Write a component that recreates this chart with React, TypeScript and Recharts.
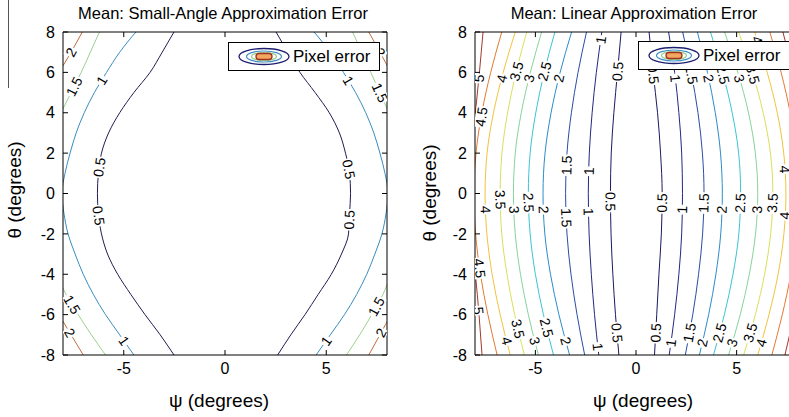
import React from 'react'
import {
  ComposedChart,
  Line,
  Scatter,
  XAxis,
  YAxis,
  ReferenceLine,
  Legend,
} from 'recharts'

const FONT = '"Liberation Sans", Arial, Helvetica, sans-serif'

const PSI_TICKS = [-5, 0, 5]
const THETA_TICKS = [-8, -6, -4, -2, 0, 2, 4, 6, 8]

// ---- left panel: small-angle approximation error ----
const SA_LEVELS = [0.5, 1, 1.5, 2]
const SA_COLORS = ['#1e1e50', '#3a8cc0', '#9fcf90', '#c26c3e']

const SA_THETA = [8, 7, 6, 5, 4, 3, 2, 1, 0, -1, -2, -3, -4, -5, -6, -7, -8]
const SA_THETA_TOP15 = [8, 7, 6, 5, 4, 3]
const SA_THETA_BOT15 = [-3, -4, -5, -6, -7, -8]
const SA_THETA_TOP2 = [8, 7, 6, 5]
const SA_THETA_BOT2 = [-5, -6, -7, -8]

const SA_05_NEG = [-2.52, -3.1, -3.7, -4.5, -5.2, -5.75, -6.1, -6.25, -6.3, -6.25, -6.1, -5.8, -5.3, -4.65, -3.95, -3.2, -2.52]
const SA_05_POS = [2.52, 3.1, 3.7, 4.45, 5.15, 5.65, 5.95, 6.15, 6.2, 6.15, 6.1, 5.75, 5.25, 4.6, 3.95, 3.25, 2.6]
const SA_10_NEG = [-4.4, -5.2, -5.85, -6.45, -6.95, -7.35, -7.65, -7.9, -8.05, -7.95, -7.75, -7.4, -7.0, -6.5, -5.9, -5.2, -4.5]
const SA_10_POS = [4.4, 5.2, 5.85, 6.45, 6.95, 7.35, 7.65, 7.9, 8.05, 7.95, 7.75, 7.4, 7.0, 6.5, 5.9, 5.2, 4.5]
const SA_15_NEG_TOP = [-6.2, -6.65, -7.1, -7.6, -8.1, -8.6]
const SA_15_NEG_BOT = [-8.7, -8.3, -7.85, -7.25, -6.6, -5.9]
const SA_15_POS_TOP = [6.3, 6.75, 7.2, 7.65, 8.1, 8.6]
const SA_15_POS_BOT = [8.6, 8.2, 7.8, 7.25, 6.65, 6.0]
const SA_20_NEG_TOP = [-7.05, -7.6, -8.2, -8.8]
const SA_20_NEG_BOT = [-8.8, -8.2, -7.6, -7.0]
const SA_20_POS_TOP = [7.1, 7.65, 8.2, 8.8]
const SA_20_POS_BOT = [8.8, 8.2, 7.65, 7.1]

// [segment id, theta where the inline label sits]
const SA_LABELS: [string, number][] = [
  ['sa20nt', 7.0], ['sa15nt', 5.3], ['sa10n', 5.6], ['sa05n', 1.3], ['sa05n', -1.1],
  ['sa15nb', -5.5], ['sa20nb', -6.9], ['sa10n', -7.3],
  ['sa20pt', 7.0], ['sa15pt', 5.0], ['sa10p', 5.6], ['sa05p', 1.2], ['sa05p', -1.3],
  ['sa15pb', -5.6], ['sa20pb', -6.9], ['sa10p', -7.3],
]

// ---- right panel: linear approximation error ----
const LIN_LEVELS = [0.5, 1, 1.5, 2, 2.5, 3, 3.5, 4, 4.5, 5]
const LIN_COLORS = [
  '#1a1a62', '#22287e', '#2c4ca6', '#2a8cca', '#3cc4d4',
  '#86d49a', '#d8e05c', '#f2c23c', '#e07a32', '#a23a2a',
]
const LIN_THETA = [8, 6, 4, 2, 0, -2, -4, -6, -8]

// one row per level, psi at each LIN_THETA row
const LIN_PSI_NEG = [
  [-0.74, -0.92, -1.1, -1.23, -1.27, -1.24, -1.15, -1.02, -0.85],
  [-1.7, -1.97, -2.18, -2.32, -2.37, -2.33, -2.22, -2.06, -1.85],
  [-2.46, -2.88, -3.21, -3.43, -3.5, -3.43, -3.23, -2.93, -2.55],
  [-3.2, -3.77, -4.22, -4.52, -4.62, -4.53, -4.25, -3.83, -3.3],
  [-4.03, -4.56, -4.98, -5.26, -5.35, -5.26, -5.0, -4.6, -4.1],
  [-4.69, -5.25, -5.7, -6.0, -6.09, -6.0, -5.74, -5.35, -4.85],
  [-5.43, -5.96, -6.38, -6.66, -6.75, -6.67, -6.41, -6.03, -5.55],
  [-6.0, -6.6, -7.08, -7.4, -7.5, -7.41, -7.15, -6.75, -6.25],
  [-6.67, -7.22, -7.66, -7.95, -8.05, -7.97, -7.73, -7.36, -6.9],
  [-7.6, -7.78, -7.98, -8.2, -8.3, -8.2, -7.98, -7.8, -7.65],
]
const LIN_PSI_POS = [
  [0.65, 0.85, 1.07, 1.22, 1.3, 1.26, 1.14, 1.03, 0.92],
  [1.62, 1.92, 2.13, 2.27, 2.31, 2.27, 2.13, 1.92, 1.65],
  [2.32, 2.74, 3.08, 3.3, 3.38, 3.31, 3.11, 2.82, 2.45],
  [3.05, 3.55, 3.94, 4.2, 4.29, 4.21, 3.97, 3.61, 3.15],
  [3.7, 4.3, 4.78, 5.1, 5.2, 5.11, 4.82, 4.39, 3.85],
  [4.4, 5.06, 5.59, 5.93, 6.05, 5.94, 5.63, 5.18, 4.6],
  [5.1, 5.78, 6.32, 6.68, 6.8, 6.69, 6.39, 5.93, 5.35],
  [5.9, 6.52, 7.02, 7.34, 7.45, 7.35, 7.06, 6.61, 6.05],
  [6.65, 7.21, 7.66, 7.95, 8.05, 7.96, 7.69, 7.27, 6.75],
  [7.3, 7.8, 8.2, 8.5, 8.6, 8.5, 8.2, 7.85, 7.4],
]

// [level, theta] of the inline labels
const LIN_LABELS_NEG: [number, number][] = [
  [5, 5.7], [4, 5.7], [3.5, 6.05], [3, 5.7], [2.5, 6.05], [2, 5.7], [1, 7.6], [0.5, 6.05],
  [4.5, 3.8], [1.5, 1.4], [1, 1.1],
  [4, -0.8], [3.5, -0.3], [3, -0.8], [2.5, -0.45], [2, -0.8], [1.5, -1.2], [1, -0.9], [0.5, -0.4],
  [4.5, -3.7], [5, -5.8],
  [4, -7.3], [3.5, -6.7], [3, -7.3], [2.5, -6.65], [2, -7.3], [1, -7.6], [0.5, -6.9],
]
const LIN_LABELS_POS: [number, number][] = [
  [0.5, 5.9], [1, 5.7], [1.5, 5.9], [2, 5.7], [2.5, 5.9], [3, 5.7], [3.5, 5.9], [4, 7.6],
  [4, 1.2],
  [0.5, -0.47], [1, -0.8], [1.5, -0.47], [2, -0.8], [2.5, -0.47], [3, -0.8], [3.5, -0.47], [4, -1.1],
  [0.5, -6.9], [1, -7.4], [1.5, -6.9], [2, -7.4], [2.5, -6.9], [3, -7.4], [3.5, -6.9], [4, -7.4],
]

type Pt = { psi: number; theta: number }
type Segment = { id: string; level: number; color: string; points: Pt[] }
type LabelPt = { psi: number; theta: number; angle: number; text: string }

const makeSegment = (id: string, level: number, color: string, psi: number[], theta: number[]): Segment => ({
  id,
  level,
  color,
  points: psi.map((p, i) => ({ psi: p, theta: theta[i] })),
})

const saColor = (lvl: number) => SA_COLORS[SA_LEVELS.indexOf(lvl)]

const SA_SEGMENTS: Segment[] = [
  makeSegment('sa05n', 0.5, saColor(0.5), SA_05_NEG, SA_THETA),
  makeSegment('sa05p', 0.5, saColor(0.5), SA_05_POS, SA_THETA),
  makeSegment('sa10n', 1, saColor(1), SA_10_NEG, SA_THETA),
  makeSegment('sa10p', 1, saColor(1), SA_10_POS, SA_THETA),
  makeSegment('sa15nt', 1.5, saColor(1.5), SA_15_NEG_TOP, SA_THETA_TOP15),
  makeSegment('sa15nb', 1.5, saColor(1.5), SA_15_NEG_BOT, SA_THETA_BOT15),
  makeSegment('sa15pt', 1.5, saColor(1.5), SA_15_POS_TOP, SA_THETA_TOP15),
  makeSegment('sa15pb', 1.5, saColor(1.5), SA_15_POS_BOT, SA_THETA_BOT15),
  makeSegment('sa20nt', 2, saColor(2), SA_20_NEG_TOP, SA_THETA_TOP2),
  makeSegment('sa20nb', 2, saColor(2), SA_20_NEG_BOT, SA_THETA_BOT2),
  makeSegment('sa20pt', 2, saColor(2), SA_20_POS_TOP, SA_THETA_TOP2),
  makeSegment('sa20pb', 2, saColor(2), SA_20_POS_BOT, SA_THETA_BOT2),
]

const LIN_SEGMENTS: Segment[] = LIN_LEVELS.flatMap((lvl, i) => [
  makeSegment(`ln${lvl}`, lvl, LIN_COLORS[i], LIN_PSI_NEG[i], LIN_THETA),
  makeSegment(`lp${lvl}`, lvl, LIN_COLORS[i], LIN_PSI_POS[i], LIN_THETA),
])

// put a label on a contour at a given theta, turned along the line
function placeLabel(seg: Segment | undefined, theta: number): LabelPt | null {
  if (!seg) return null
  const pts = seg.points
  for (let i = 0; i < pts.length - 1; i++) {
    const a = pts[i]
    const b = pts[i + 1]
    if (theta <= a.theta && theta >= b.theta) {
      const t = (a.theta - theta) / (a.theta - b.theta)
      let angle = (Math.atan2(a.theta - b.theta, b.psi - a.psi) * 180) / Math.PI
      if (angle > 90) angle -= 180
      if (angle < -90) angle += 180
      return { psi: a.psi + t * (b.psi - a.psi), theta, angle, text: String(seg.level) }
    }
  }
  return null
}

const byId = (list: Segment[], id: string) => list.find((s) => s.id === id)

const SA_LABEL_POINTS = SA_LABELS.map(([id, th]) => placeLabel(byId(SA_SEGMENTS, id), th)).filter(Boolean) as LabelPt[]
const LIN_LABEL_POINTS = [
  ...LIN_LABELS_NEG.map(([lvl, th]) => placeLabel(byId(LIN_SEGMENTS, `ln${lvl}`), th)),
  ...LIN_LABELS_POS.map(([lvl, th]) => placeLabel(byId(LIN_SEGMENTS, `lp${lvl}`), th)),
].filter(Boolean) as LabelPt[]

const ContourLabel = (props: any) => {
  const { cx, cy, payload } = props
  if (cx == null || cy == null || !payload) return <g />
  const w = payload.text.split('').reduce((s: number, ch: string) => s + (ch === '.' ? 3.9 : 7.8), 2)
  return (
    <g transform={`translate(${cx},${cy}) rotate(${payload.angle})`}>
      <rect x={-w / 2} y={-6} width={w} height={12} fill="#fff" />
      <text x={0} y={0} textAnchor="middle" dominantBaseline="central" fontSize={14} fill="#000">
        {payload.text}
      </text>
    </g>
  )
}

const PixelErrorKey = () => (
  <div
    style={{
      width: 152,
      height: 29,
      boxSizing: 'border-box',
      border: '1px solid #000',
      background: '#fff',
      position: 'relative',
      fontFamily: FONT,
      fontSize: 17,
      color: '#000',
    }}
  >
    <svg width={64} height={27} style={{ position: 'absolute', left: 0, top: 0 }}>
      <ellipse cx={35} cy={13.5} rx={25} ry={8} fill="none" stroke="#1e1e6e" strokeWidth={1.3} />
      <ellipse cx={35} cy={13.5} rx={17.5} ry={5.5} fill="none" stroke="#3a90c8" strokeWidth={1.2} />
      <ellipse cx={35} cy={13.5} rx={12.5} ry={4} fill="none" stroke="#9ccc8c" strokeWidth={1.2} />
      <rect x={27} y={10.5} width={16} height={6} rx={3} fill="#f2a860" stroke="#a03020" strokeWidth={1.3} />
    </svg>
    <span style={{ position: 'absolute', left: 64, top: 0, lineHeight: '27px' }}>Pixel error</span>
  </div>
)

interface PanelProps {
  left: number
  width: number
  marginLeft: number
  segments: Segment[]
  labels: LabelPt[]
  legendLeft: number
  legendTop: number
  yLabelX: number
  yLabelY: number
  xLabelX: number
}

const ContourPanel: React.FC<PanelProps> = ({
  left, width, marginLeft, segments, labels, legendLeft, legendTop, yLabelX, yLabelY, xLabelX,
}) => (
  <div style={{ position: 'absolute', left, top: 0 }}>
    <ComposedChart width={width} height={417} margin={{ top: 32, right: 13, bottom: 0, left: marginLeft }}>
      <XAxis
        dataKey="psi"
        type="number"
        domain={[-8, 8]}
        allowDataOverflow
        ticks={PSI_TICKS}
        interval={0}
        height={62}
        stroke="#000"
        tickSize={-5}
        tickMargin={13}
        tick={{ fill: '#000', fontSize: 16 }}
        label={() => (
          <text x={xLabelX} y={407} textAnchor="middle" fontSize={19} fill="#000">
            ψ (degrees)
          </text>
        )}
      />
      <YAxis
        dataKey="theta"
        type="number"
        domain={[-8, 8]}
        allowDataOverflow
        ticks={THETA_TICKS}
        interval={0}
        width={40}
        stroke="#000"
        tickSize={-5}
        tickMargin={13}
        tick={{ fill: '#000', fontSize: 16 }}
        label={() => (
          <text
            x={yLabelX}
            y={yLabelY}
            transform={`rotate(-90, ${yLabelX}, ${yLabelY})`}
            textAnchor="middle"
            fontSize={19}
            fill="#000"
          >
            θ (degrees)
          </text>
        )}
      />
      {segments.map((s) => (
        <Line
          key={s.id}
          data={s.points}
          dataKey="theta"
          type="monotoneY"
          stroke={s.color}
          strokeWidth={1}
          dot={false}
          activeDot={false}
          isAnimationActive={false}
        />
      ))}
      <Scatter
        data={labels}
        dataKey="theta"
        isAnimationActive={false}
        shape={(p: any) => <ContourLabel {...p} />}
      />
      <ReferenceLine y={8} stroke="#000" />
      <ReferenceLine x={8} stroke="#000" />
      {PSI_TICKS.map((t) => (
        <ReferenceLine key={`top${t}`} segment={[{ x: t, y: 8 }, { x: t, y: 7.75 }]} stroke="#000" />
      ))}
      {THETA_TICKS.map((t) => (
        <ReferenceLine key={`right${t}`} segment={[{ x: 8, y: t }, { x: 7.75, y: t }]} stroke="#000" />
      ))}
      <Legend
        layout="vertical"
        align="center"
        verticalAlign="middle"
        wrapperStyle={{ left: legendLeft, top: legendTop, width: 152, height: 29 }}
        content={() => <PixelErrorKey />}
      />
    </ComposedChart>
  </div>
)

export default function App() {
  return (
    <div
      style={{
        position: 'fixed',
        left: 0,
        top: 0,
        width: 789,
        height: 417,
        overflow: 'hidden',
        background: '#fff',
        fontFamily: FONT,
      }}
    >
      <div style={{ position: 'absolute', left: 8, top: 0, width: 1, height: 88, background: '#555' }} />
      <ContourPanel
        left={0}
        width={400}
        marginLeft={23}
        segments={SA_SEGMENTS}
        labels={SA_LABEL_POINTS}
        legendLeft={228}
        legendTop={42}
        yLabelX={21}
        yLabelY={190}
        xLabelX={219}
      />
      <ContourPanel
        left={400}
        width={410}
        marginLeft={35}
        segments={LIN_SEGMENTS}
        labels={LIN_LABEL_POINTS}
        legendLeft={238}
        legendTop={41}
        yLabelX={36}
        yLabelY={193}
        xLabelX={243}
      />
      <svg width={789} height={30} style={{ position: 'absolute', left: 0, top: 0 }}>
        <text x={223} y={19} textAnchor="middle" fontSize={16.5} fill="#000">
          Mean: Small-Angle Approximation Error
        </text>
        <text x={634} y={19} textAnchor="middle" fontSize={16.5} fill="#000">
          Mean: Linear Approximation Error
        </text>
      </svg>
    </div>
  )
}
